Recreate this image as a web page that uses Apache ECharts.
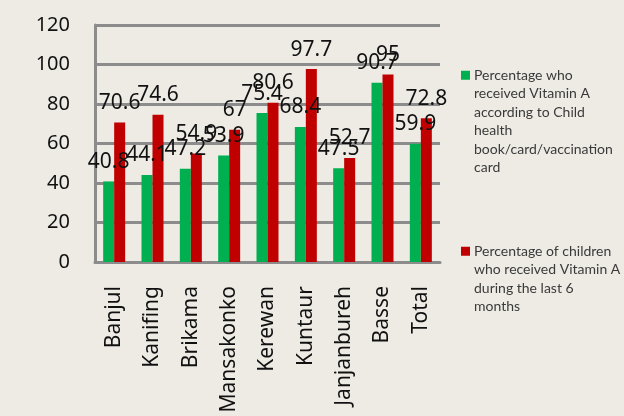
<!DOCTYPE html>
<html>
<head>
<meta charset="utf-8">
<script src="https://cdn.jsdelivr.net/npm/echarts@6/dist/echarts.min.js"></script>
<style>
  html, body { margin: 0; padding: 0; background: #EEEBE5; }
  #chart { width: 624px; height: 416px; }
</style>
</head>
<body>
<div id="chart"></div>
<script>
// districts
var categories = ['Banjul', 'Kanifing', 'Brikama', 'Mansakonko', 'Kerewan', 'Kuntaur', 'Janjanbureh', 'Basse', 'Total'];
// percentage by child health book/card
var cardValues = [40.8, 44.1, 47.2, 53.9, 75.4, 68.4, 47.5, 90.7, 59.9];
// percentage in last 6 months
var sixMonthValues = [70.6, 74.6, 54.9, 67, 80.6, 97.7, 52.7, 95, 72.8];
var yTicks = [0, 20, 40, 60, 80, 100, 120];

var cardName = 'Percentage who\nreceived Vitamin A\naccording to Child\nhealth\nbook/card/vaccination\ncard';
var sixName = 'Percentage of children\nwho received Vitamin A\nduring the last 6\nmonths';
var green = '#00B050';
var red = '#C00000';

var lh = 18.5;
var myChart = echarts.init(document.getElementById('chart'));

// legend text with the square on the first line
function legendText(name) {
    var sq = name === cardName ? 'sqG' : 'sqR';
    var lines = name.split('\n');
    var out = [];
    for (var i = 0; i < lines.length; i++) {
        if (i === 0) {
            out.push('{' + sq + '|}{sp|}{t|' + lines[i] + '}');
        } else {
            out.push('{ind|}{t|' + lines[i] + '}');
        }
    }
    return out.join('\n');
}

var option = {
    backgroundColor: '#EEEBE5',
    animation: false,
    grid: {
        left: 95,
        right: 184,
        top: 25,
        bottom: 154
    },
    legend: {
        orient: 'vertical',
        left: 456,
        top: 66,
        padding: 0,
        itemWidth: 0,
        itemHeight: 0,
        itemGap: 65,
        icon: 'rect',
        selectedMode: false,
        formatter: legendText,
        textStyle: {
            fontFamily: 'Lato',
            fontSize: 14,
            color: '#3a3a3a',
            lineHeight: lh,
            rich: {
                sqG: { width: 9, height: 9, backgroundColor: green, lineHeight: lh },
                sqR: { width: 9, height: 9, backgroundColor: red, lineHeight: lh },
                sp: { width: 4, lineHeight: lh },
                ind: { width: 13, lineHeight: lh },
                t: { fontFamily: 'Lato', fontSize: 14, color: '#3a3a3a', lineHeight: lh }
            }
        },
        data: [cardName, sixName]
    },
    xAxis: {
        type: 'category',
        data: categories,
        axisLine: { lineStyle: { color: '#8C8C8C', width: 3 } },
        axisTick: { show: false },
        axisLabel: {
            rotate: 90,
            margin: 24,
            fontFamily: 'Noto Sans',
            fontSize: 21,
            color: '#111111'
        }
    },
    yAxis: {
        type: 'value',
        min: yTicks[0],
        max: yTicks[yTicks.length - 1],
        interval: yTicks[1] - yTicks[0],
        axisLine: { show: true, lineStyle: { color: '#8C8C8C', width: 3 } },
        axisTick: { show: false },
        splitLine: { lineStyle: { color: '#8C8C8C', width: 3 } },
        axisLabel: {
            margin: 25,
            fontFamily: 'Noto Sans',
            fontSize: 20,
            color: '#111111'
        }
    },
    series: [
        {
            name: cardName,
            type: 'bar',
            data: cardValues,
            barWidth: 11,
            barGap: '0%',
            itemStyle: { color: green },
            label: {
                show: true,
                position: 'top',
                distance: 9,
                fontFamily: 'Noto Sans',
                fontSize: 21,
                color: '#111111'
            }
        },
        {
            name: sixName,
            type: 'bar',
            data: sixMonthValues,
            barWidth: 11,
            barGap: '0%',
            itemStyle: { color: red },
            label: {
                show: true,
                position: 'top',
                distance: 9,
                fontFamily: 'Noto Sans',
                fontSize: 21,
                color: '#111111'
            }
        }
    ]
};

myChart.setOption(option);
</script>
</body>
</html>
